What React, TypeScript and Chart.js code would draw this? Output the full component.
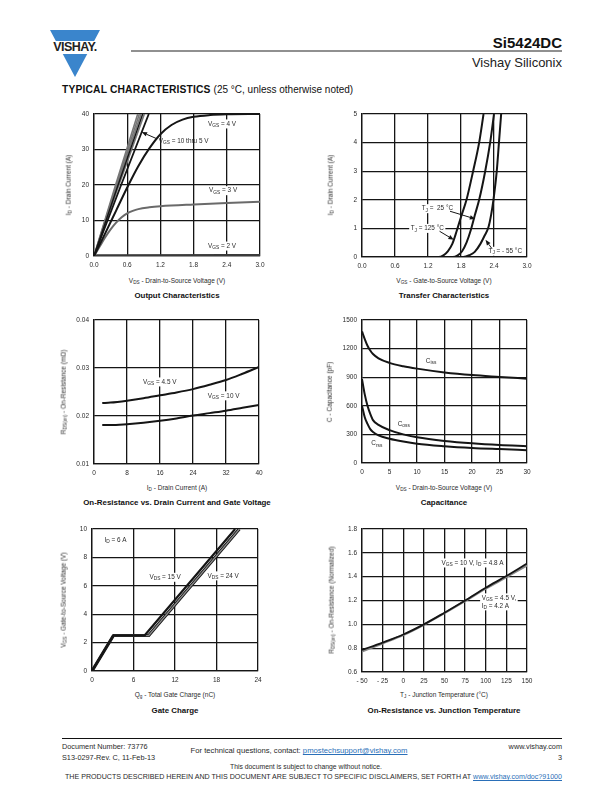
import React, { useEffect, useRef } from "react";
import { Chart, registerables } from "chart.js";

Chart.register(...registerables);

const FONT = '"Liberation Sans", Arial, Helvetica, sans-serif';
const INK = "#151515";
const GRAY = "#777777";
const TXT = "#2a2a2a";

// ---------- Output Characteristics ----------
const outId_lin = [0, 20, 40];
const outVds_10V = [0, 0.39, 0.79];
const outVds_9V = [0, 0.405, 0.82];
const outVds_8V = [0, 0.42, 0.85];
const outVds_7V = [0, 0.435, 0.88];
const outVds_6V = [0, 0.45, 0.91];
const outVds_5V = [0, 0.49, 0.99];
const outVds_4V = [0, 0.2, 0.4, 0.6, 0.8, 1.0, 1.2, 1.4, 1.6, 1.8, 2.1, 2.4, 3.0];
const outId_4V = [0, 6.3, 12.8, 19.3, 25.3, 30.3, 34.3, 36.9, 38.4, 39.2, 39.7, 39.9, 40.0];
const outVds_3V = [0, 0.1, 0.2, 0.3, 0.4, 0.5, 0.6, 0.7, 0.8, 1.0, 1.2, 1.8, 2.4, 3.0];
const outId_3V = [0, 2.6, 5.2, 7.5, 9.4, 10.9, 12.0, 12.7, 13.2, 13.7, 14.0, 14.5, 14.9, 15.3];
const outVds_2V = [0, 0.05, 3.0];
const outId_2V = [0, 0.2, 0.3];

// ---------- Transfer Characteristics ----------
const trVgs_125 = [0, 1.39, 1.48, 1.56, 1.64, 1.72, 1.8, 1.9, 2.02, 2.13, 2.21];
const trId_125 = [0, 0, 0.06, 0.2, 0.45, 0.9, 1.4, 2.0, 3.0, 4.0, 5.0];
const trVgs_25 = [0, 1.65, 1.74, 1.82, 1.9, 1.98, 2.05, 2.13, 2.24, 2.33, 2.4];
const trId_25 = [0, 0, 0.06, 0.2, 0.5, 0.95, 1.45, 2.0, 3.0, 4.0, 5.0];
const trVgs_m55 = [0, 1.84, 1.95, 2.05, 2.15, 2.23, 2.3, 2.35, 2.39, 2.45, 2.49, 2.53];
const trId_m55 = [0, 0, 0.06, 0.18, 0.45, 0.75, 1.05, 1.5, 2.0, 3.0, 4.0, 5.0];

// ---------- On-Resistance vs Drain Current ----------
const rdsId = [2, 4, 8, 12, 16, 20, 24, 28, 32, 36, 40];
const rds_4V5 = [0.0227, 0.0228, 0.0232, 0.0237, 0.0243, 0.0249, 0.0256, 0.0265, 0.0275, 0.0288, 0.0302];
const rds_10V = [0.0181, 0.0181, 0.0183, 0.0186, 0.019, 0.0195, 0.0201, 0.0206, 0.0211, 0.0217, 0.0223];

// ---------- Capacitance ----------
const capVds = [0, 0.5, 1, 1.5, 2, 3, 5, 7.5, 10, 15, 20, 25, 30];
const ciss = [1380, 1300, 1230, 1180, 1143, 1098, 1050, 1015, 990, 950, 922, 903, 885];
const coss = [880, 720, 600, 515, 450, 400, 345, 300, 270, 232, 206, 188, 176];
const crss = [600, 480, 410, 355, 325, 290, 255, 225, 202, 176, 158, 146, 135];

// ---------- Gate Charge ----------
const gcQg_15V = [0, 3.1, 7.6, 20.7];
const gcVgs_15V = [0, 2.5, 2.5, 10];
const gcQg_24V = [0, 3.1, 8.2, 21.3];
const gcVgs_24V = [0, 2.5, 2.5, 10];

// ---------- On-Resistance vs Junction Temperature ----------
const tjC = [-50, -25, 0, 25, 50, 75, 100, 125, 150];
const rNorm_10V = [0.785, 0.847, 0.915, 1.0, 1.098, 1.2, 1.307, 1.405, 1.51];
const rNorm_4V5 = [0.772, 0.84, 0.91, 0.997, 1.094, 1.196, 1.3, 1.396, 1.494];

const pts = (xs: number[], ys: number[]) => xs.map((x, i) => ({ x, y: ys[i] }));

function line(data: any[], color: string, width: number, order = 0, smooth = true) {
  return {
    data,
    borderColor: color,
    borderWidth: width,
    pointRadius: 0,
    fill: false,
    order,
    tension: 0,
    cubicInterpolationMode: smooth ? "monotone" : "default",
    borderCapStyle: "butt",
    borderJoinStyle: "round",
  };
}

type Part = [string, number];
const S = (t: string): Part => [t, 1];
const N = (t: string): Part => [t, 0];

const MAIN_FS = 6.4;
const SUB_FS = 4.8;

const annotPlugin = {
  id: "annot",
  afterDraw(chart: any, _a: any, opts: any) {
    const ctx = chart.ctx as CanvasRenderingContext2D;
    const xs = chart.scales.x;
    const ys = chart.scales.y;
    ctx.save();
    (opts.labels || []).forEach((lb: any) => {
      const px = xs.getPixelForValue(lb.x);
      const py = ys.getPixelForValue(lb.y);
      let w = 0;
      const segs = lb.parts.map(([t, sub]: Part) => {
        ctx.font = `${sub ? SUB_FS : MAIN_FS}px ${FONT}`;
        const m = ctx.measureText(t).width;
        const s = { t, sub, x: w };
        w += m;
        return s;
      });
      if (lb.bg !== false) {
        ctx.fillStyle = "#ffffff";
        ctx.fillRect(px - 1.5, py - 4.5, w + 3, 9);
      }
      ctx.fillStyle = TXT;
      ctx.textBaseline = "middle";
      ctx.textAlign = "left";
      segs.forEach((s: any) => {
        ctx.font = `${s.sub ? SUB_FS : MAIN_FS}px ${FONT}`;
        ctx.fillText(s.t, px + s.x, py + (s.sub ? 1.8 : 0));
      });
    });
    (opts.arrows || []).forEach((a: any) => {
      const x1 = xs.getPixelForValue(a.from[0]);
      const y1 = ys.getPixelForValue(a.from[1]);
      const x2 = xs.getPixelForValue(a.to[0]);
      const y2 = ys.getPixelForValue(a.to[1]);
      const ang = Math.atan2(y2 - y1, x2 - x1);
      const L = 5.5;
      const W = 2.2;
      const bx = x2 - L * Math.cos(ang);
      const by = y2 - L * Math.sin(ang);
      ctx.strokeStyle = INK;
      ctx.lineWidth = 1;
      ctx.beginPath();
      ctx.moveTo(x1, y1);
      ctx.lineTo(bx, by);
      ctx.stroke();
      ctx.beginPath();
      ctx.moveTo(x2, y2);
      ctx.lineTo(bx + W * Math.sin(ang), by - W * Math.cos(ang));
      ctx.lineTo(bx - W * Math.sin(ang), by + W * Math.cos(ang));
      ctx.closePath();
      ctx.fillStyle = INK;
      ctx.fill();
    });
    ctx.restore();
  },
};

type Box = { l: number; t: number; r: number; b: number };
type AxisSpec = { min: number; max: number; step: number; fmt: (v: number) => string };

const YW = 40;
const XH = 16;
const PT = 10;
const PR = 14;

function Panel({ box, xa, ya, datasets, annot }: { box: Box; xa: AxisSpec; ya: AxisSpec; datasets: any[]; annot: any }) {
  const ref = useRef<HTMLCanvasElement>(null);
  const w = box.r - box.l + YW + PR;
  const h = box.b - box.t + PT + XH;
  useEffect(() => {
    const tickFont = { family: FONT, size: 6.5 };
    const grid = { color: INK, lineWidth: 1.3, drawTicks: false, tickLength: 0 };
    const border = { color: INK, width: 1.3 };
    const chart = new Chart(ref.current as HTMLCanvasElement, {
      type: "line",
      data: { datasets },
      plugins: [annotPlugin],
      options: {
        responsive: false,
        animation: false,
        devicePixelRatio: 1,
        layout: { padding: { top: PT, right: PR, left: 0, bottom: 0 } },
        plugins: { legend: { display: false }, tooltip: { enabled: false }, annot } as any,
        scales: {
          x: {
            type: "linear",
            min: xa.min,
            max: xa.max,
            ticks: { stepSize: xa.step, callback: (v: any) => xa.fmt(Number(v)), font: tickFont, color: TXT, padding: 5, maxRotation: 0, autoSkip: false },
            grid,
            border,
            afterFit: (s: any) => {
              s.height = XH;
              s.paddingLeft = 0;
              s.paddingRight = 0;
            },
          },
          y: {
            type: "linear",
            min: ya.min,
            max: ya.max,
            ticks: { stepSize: ya.step, callback: (v: any) => ya.fmt(Number(v)), font: tickFont, color: TXT, padding: 5, autoSkip: false },
            grid,
            border,
            afterFit: (s: any) => {
              s.width = YW;
              s.paddingTop = 0;
              s.paddingBottom = 0;
            },
          },
        },
      } as any,
    });
    return () => chart.destroy();
  }, []);
  return (
    <canvas
      ref={ref}
      width={w}
      height={h}
      style={{ position: "absolute", left: box.l - YW, top: box.t - PT, width: w, height: h }}
    />
  );
}

function Txt({ x, y, size, bold, align, color, children, style }: any) {
  const tx = align === "center" ? "-50%" : align === "right" ? "-100%" : "0";
  return (
    <div
      style={{
        position: "absolute",
        left: x,
        top: y - 0.846 * size,
        fontSize: size,
        lineHeight: 1,
        fontWeight: bold ? "bold" : "normal",
        whiteSpace: "nowrap",
        transform: `translateX(${tx})`,
        color: color || TXT,
        ...style,
      }}
    >
      {children}
    </div>
  );
}

function VTxt({ cx, cy, size, children }: any) {
  return (
    <div
      style={{
        position: "absolute",
        left: cx,
        top: cy,
        fontSize: size,
        lineHeight: 1,
        whiteSpace: "nowrap",
        transform: "translate(-50%, -50%) rotate(-90deg)",
        color: TXT,
      }}
    >
      {children}
    </div>
  );
}

const Sub = ({ children }: any) => (
  <span style={{ fontSize: "0.72em", position: "relative", top: "0.3em" }}>{children}</span>
);

const f1 = (v: number) => v.toFixed(1);
const f2 = (v: number) => v.toFixed(2);
const f0 = (v: number) => String(Math.round(v));
const fNeg = (v: number) => (v < 0 ? "- " + Math.abs(Math.round(v)) : String(Math.round(v)));

const AX = 6.5;
const TT = 7.9;
const LINK = "#2a6fb8";

export default function App() {
  const c1 = { l: 94, t: 114, r: 260, b: 256 };
  const c2 = { l: 362, t: 114, r: 527, b: 257 };
  const c3 = { l: 94, t: 320, r: 259, b: 464 };
  const c4 = { l: 362, t: 320, r: 527, b: 463 };
  const c5 = { l: 92, t: 529, r: 258, b: 671 };
  const c6 = { l: 362, t: 529, r: 527, b: 672 };

  return (
    <div style={{ position: "absolute", left: 0, top: 0, width: 612, height: 792, background: "#fff", fontFamily: FONT, overflow: "hidden" }}>
      {/* Header */}
      <svg width={612} height={100} style={{ position: "absolute", left: 0, top: 0 }}>
        <polygon points="50,30 100,30 75,77" fill="#3a85cc" />
        <rect x={44} y={41} width={60} height={13} fill="#fff" />
        <line x1={131} y1={51} x2={562} y2={51} stroke="#222" strokeWidth={1.2} />
      </svg>
      <Txt x={75} y={52} size={12.5} bold align="center" color="#222" style={{ letterSpacing: -0.6 }}>
        VISHAY.
      </Txt>
      <Txt x={562} y={48} size={15} bold align="right" color="#111">
        Si5424DC
      </Txt>
      <Txt x={562} y={67} size={13} align="right" color="#222">
        Vishay Siliconix
      </Txt>
      <Txt x={62} y={93.5} size={10.3} bold color="#111" style={{ letterSpacing: 0.15 }}>
        TYPICAL CHARACTERISTICS <span style={{ fontWeight: "normal", fontSize: 10, letterSpacing: 0 }}>(25 °C, unless otherwise noted)</span>
      </Txt>

      {/* Chart 1: Output Characteristics */}
      <Panel
        box={c1}
        xa={{ min: 0, max: 3, step: 0.6, fmt: f1 }}
        ya={{ min: 0, max: 40, step: 10, fmt: f0 }}
        datasets={[
          line(pts(outVds_10V, outId_lin), GRAY, 1.6, 2, false),
          line(pts(outVds_9V, outId_lin), GRAY, 1.6, 2, false),
          line(pts(outVds_8V, outId_lin), GRAY, 1.6, 2, false),
          line(pts(outVds_7V, outId_lin), INK, 1.4, 1, false),
          line(pts(outVds_6V, outId_lin), GRAY, 1.6, 2, false),
          line(pts(outVds_5V, outId_lin), INK, 1.8, 1, false),
          line(pts(outVds_4V, outId_4V), INK, 2, 1),
          line(pts(outVds_3V, outId_3V), "#6a6a6a", 2, 1),
          line(pts(outVds_2V, outId_2V), "#3a3a3a", 2, 1),
        ]}
        annot={{
          labels: [
            { x: 2.06, y: 37.2, parts: [N("V"), S("GS"), N(" = 4 V")] },
            { x: 2.08, y: 18.4, parts: [N("V"), S("GS"), N(" = 3 V")] },
            { x: 2.06, y: 2.8, parts: [N("V"), S("GS"), N(" = 2 V")] },
            { x: 1.17, y: 32.4, parts: [N("V"), S("GS"), N(" = 10 thru 5 V")], bg: false },
          ],
          arrows: [{ from: [1.14, 33.0], to: [0.86, 34.9] }],
        }}
      />
      <Txt x={177} y={283.5} size={AX} align="center">
        V<Sub>DS</Sub> - Drain-to-Source Voltage (V)
      </Txt>
      <VTxt cx={69} cy={185} size={AX}>
        I<Sub>D</Sub> - Drain Current (A)
      </VTxt>
      <Txt x={177} y={299} size={TT} bold align="center" color="#111">
        Output Characteristics
      </Txt>

      {/* Chart 2: Transfer Characteristics */}
      <Panel
        box={c2}
        xa={{ min: 0, max: 3, step: 0.6, fmt: f1 }}
        ya={{ min: 0, max: 5, step: 1, fmt: f0 }}
        datasets={[
          line(pts(trVgs_125, trId_125), INK, 2),
          line(pts(trVgs_25, trId_25), INK, 2),
          line(pts(trVgs_m55, trId_m55), INK, 2),
        ]}
        annot={{
          labels: [
            { x: 1.085, y: 1.69, parts: [N("T"), S("J"), N(" =  25 °C")] },
            { x: 0.885, y: 1.0, parts: [N("T"), S("J"), N(" = 125 °C")] },
            { x: 2.3, y: 0.2, parts: [N("T"), S("J"), N(" = - 55 °C")] },
          ],
          arrows: [
            { from: [1.6, 1.6], to: [2.06, 1.33] },
            { from: [1.41, 0.9], to: [1.67, 0.6] },
            { from: [2.36, 0.3], to: [2.245, 0.6] },
          ],
        }}
      />
      <Txt x={444} y={283.5} size={AX} align="center">
        V<Sub>GS</Sub> - Gate-to-Source Voltage (V)
      </Txt>
      <VTxt cx={331} cy={185} size={AX}>
        I<Sub>D</Sub> - Drain Current (A)
      </VTxt>
      <Txt x={444} y={299} size={TT} bold align="center" color="#111">
        Transfer Characteristics
      </Txt>

      {/* Chart 3: On-Resistance vs Drain Current */}
      <Panel
        box={c3}
        xa={{ min: 0, max: 40, step: 8, fmt: f0 }}
        ya={{ min: 0.01, max: 0.04, step: 0.01, fmt: f2 }}
        datasets={[line(pts(rdsId, rds_4V5), INK, 2), line(pts(rdsId, rds_10V), INK, 2)]}
        annot={{
          labels: [
            { x: 11.9, y: 0.0271, parts: [N("V"), S("GS"), N(" = 4.5 V")] },
            { x: 27.6, y: 0.0242, parts: [N("V"), S("GS"), N(" = 10 V")] },
          ],
        }}
      />
      <Txt x={177} y={490} size={AX} align="center">
        I<Sub>D</Sub> - Drain Current (A)
      </Txt>
      <VTxt cx={64} cy={392} size={AX}>
        R<Sub>DS(on)</Sub> - On-Resistance (mΩ)
      </VTxt>
      <Txt x={177} y={506} size={TT} bold align="center" color="#111">
        On-Resistance vs. Drain Current and Gate Voltage
      </Txt>

      {/* Chart 4: Capacitance */}
      <Panel
        box={c4}
        xa={{ min: 0, max: 30, step: 5, fmt: f0 }}
        ya={{ min: 0, max: 1500, step: 300, fmt: f0 }}
        datasets={[line(pts(capVds, ciss), INK, 2), line(pts(capVds, coss), INK, 2), line(pts(capVds, crss), INK, 2)]}
        annot={{
          labels: [
            { x: 11.6, y: 1070, parts: [N("C"), S("iss")] },
            { x: 6.5, y: 410, parts: [N("C"), S("oss")] },
            { x: 1.7, y: 205, parts: [N("C"), S("rss")] },
          ],
        }}
      />
      <Txt x={444} y={490} size={AX} align="center">
        V<Sub>DS</Sub> - Drain-to-Source Voltage (V)
      </Txt>
      <VTxt cx={330} cy={392} size={AX}>
        C - Capacitance (pF)
      </VTxt>
      <Txt x={444} y={506} size={TT} bold align="center" color="#111">
        Capacitance
      </Txt>

      {/* Chart 5: Gate Charge */}
      <Panel
        box={c5}
        xa={{ min: 0, max: 24, step: 6, fmt: f0 }}
        ya={{ min: 0, max: 10, step: 2, fmt: f0 }}
        datasets={[
          line(pts(gcQg_15V, gcVgs_15V), INK, 2.2, 0, false),
          line(pts(gcQg_24V, gcVgs_24V), "#8a8a8a", 1.3, 1, false),
          line(pts(gcQg_24V, gcVgs_24V), INK, 3.2, 2, false),
        ]}
        annot={{
          labels: [
            { x: 1.8, y: 9.2, parts: [N("I"), S("D"), N(" = 6 A")] },
            { x: 8.3, y: 6.6, parts: [N("V"), S("DS"), N(" = 15 V")] },
            { x: 16.7, y: 6.7, parts: [N("V"), S("DS"), N(" = 24 V")] },
          ],
        }}
      />
      <Txt x={175} y={697} size={AX} align="center">
        Q<Sub>g</Sub> - Total Gate Charge (nC)
      </Txt>
      <VTxt cx={64} cy={600} size={AX}>
        V<Sub>GS</Sub> - Gate-to-Source Voltage (V)
      </VTxt>
      <Txt x={175} y={714} size={TT} bold align="center" color="#111">
        Gate Charge
      </Txt>

      {/* Chart 6: On-Resistance vs Junction Temperature */}
      <Panel
        box={c6}
        xa={{ min: -50, max: 150, step: 25, fmt: fNeg }}
        ya={{ min: 0.6, max: 1.8, step: 0.2, fmt: f1 }}
        datasets={[line(pts(tjC, rNorm_10V), INK, 1.8, 0), line(pts(tjC, rNorm_4V5), "#8a8a8a", 2.2, 1)]}
        annot={{
          labels: [
            { x: 46.4, y: 1.515, parts: [N("V"), S("GS"), N(" = 10 V, I"), S("D"), N(" = 4.8 A")] },
            { x: 95, y: 1.222, parts: [N("V"), S("GS"), N(" = 4.5 V,")] },
            { x: 95, y: 1.155, parts: [N("I"), S("D"), N(" = 4.2 A")] },
          ],
        }}
      />
      <Txt x={444} y={697} size={AX} align="center">
        T<Sub>J</Sub> - Junction Temperature (°C)
      </Txt>
      <VTxt cx={332} cy={600} size={AX}>
        R<Sub>DS(on)</Sub> - On-Resistance (Normalized)
      </VTxt>
      <Txt x={444} y={714} size={TT} bold align="center" color="#111">
        On-Resistance vs. Junction Temperature
      </Txt>

      {/* Footer */}
      <div style={{ position: "absolute", left: 62, top: 738, width: 500, height: 1, background: "#111" }} />
      <Txt x={62} y={749} size={7.3}>Document Number: 73776</Txt>
      <Txt x={62} y={760} size={7.3}>S13-0297-Rev. C, 11-Feb-13</Txt>
      <Txt x={299} y={754} size={7.7} align="center">
        For technical questions, contact: <span style={{ color: LINK, textDecoration: "underline" }}>pmostechsupport@vishay.com</span>
      </Txt>
      <Txt x={562} y={749} size={7.3} align="right">www.vishay.com</Txt>
      <Txt x={562} y={760} size={7.3} align="right">3</Txt>
      <Txt x={306} y={770} size={6.8} align="center">This document is subject to change without notice.</Txt>
      <Txt x={562} y={780} size={7.1} align="right">
        THE PRODUCTS DESCRIBED HEREIN AND THIS DOCUMENT ARE SUBJECT TO SPECIFIC DISCLAIMERS, SET FORTH AT{" "}
        <span style={{ color: LINK, textDecoration: "underline" }}>www.vishay.com/doc?91000</span>
      </Txt>
    </div>
  );
}
